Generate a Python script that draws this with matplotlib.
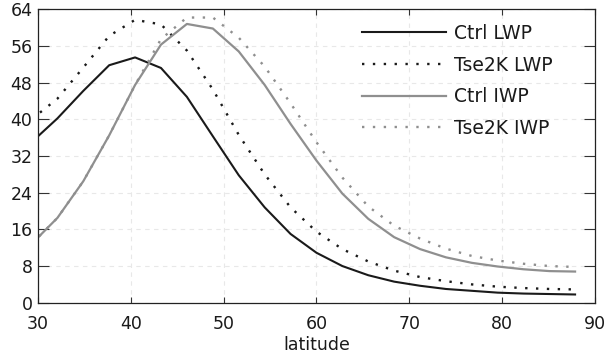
import numpy as np
import matplotlib
matplotlib.use("Agg")
import matplotlib.pyplot as plt

plt.rcParams['font.family'] = ['DejaVu Sans']

# T42 gaussian latitudes (NH, 29N-88N)
lat = [29.30, 32.09, 34.88, 37.67, 40.46, 43.25, 46.04, 48.84, 51.63, 54.42, 57.21,
       60.00, 62.79, 65.58, 68.37, 71.16, 73.95, 76.74, 79.53, 82.31, 85.10, 87.86]

ctrl_lwp = [35.0, 40.2, 46.2, 51.8, 53.5, 51.2, 44.9, 36.3, 27.8, 20.8, 15.0,
            10.9, 8.0, 6.0, 4.6, 3.7, 3.0, 2.6, 2.2, 2.0, 1.9, 1.8]
tse_lwp = [40.0, 44.5, 51.3, 58.2, 61.7, 60.7, 55.0, 46.5, 36.6, 28.0, 20.8,
           15.5, 11.7, 9.0, 7.0, 5.6, 4.7, 4.0, 3.5, 3.2, 3.0, 2.9]
ctrl_iwp = [12.8, 18.5, 26.5, 36.5, 47.5, 56.3, 60.8, 59.8, 54.8, 47.5, 39.0,
            31.0, 23.8, 18.3, 14.3, 11.7, 9.9, 8.7, 7.9, 7.3, 6.9, 6.8]
tse_iwp = [12.8, 18.5, 26.5, 36.5, 47.5, 57.5, 62.2, 62.2, 57.8, 51.5, 43.5,
           35.0, 27.3, 21.0, 16.8, 14.0, 11.8, 10.2, 9.2, 8.5, 8.0, 7.8]

labels = ['Ctrl LWP', 'Tse2K LWP', 'Ctrl IWP', 'Tse2K IWP']
xticks = [30, 40, 50, 60, 70, 80, 90]
yticks = [0, 8, 16, 24, 32, 40, 48, 56, 64]

dark = '#1a1a1a'
grey = '#8f8f8f'
dot = (0, (1, 3.6))

fig = plt.figure(figsize=(6.08, 3.57), dpi=100)
ax = fig.add_axes([0.0625, 0.152, 0.916, 0.822])

ax.plot(lat, ctrl_lwp, color=dark, lw=1.5, label=labels[0])
ax.plot(lat, tse_lwp, color=dark, lw=1.7, ls=dot, dash_capstyle='butt', label=labels[1])
ax.plot(lat, ctrl_iwp, color=grey, lw=1.6, label=labels[2])
ax.plot(lat, tse_iwp, color=grey, lw=1.7, ls=dot, dash_capstyle='butt', label=labels[3])

ax.set_xlim(30, 90)
ax.set_ylim(0, 64)
ax.set_xticks(xticks)
ax.set_yticks(yticks)
ax.tick_params(axis='both', direction='in', labelsize=12.5, width=0.8, color='#333333',
               labelcolor='#1a1a1a', top=True, right=True)
ax.tick_params(axis='y', length=8, pad=4)
ax.tick_params(axis='x', length=4, pad=9)
ax.grid(True, ls=(0, (4, 4)), color='#e8e8e8', lw=0.8)
for s in ax.spines.values():
    s.set_color('#222222')
    s.set_linewidth(0.9)

ax.set_xlabel('latitude', fontsize=12.5, labelpad=2, color='#1a1a1a')

leg = ax.legend(loc='upper right', bbox_to_anchor=(0.955, 1.008), frameon=False, fontsize=13.5,
                handlelength=4.5, handletextpad=0.42, labelspacing=0.68)
for t in leg.get_texts():
    t.set_color('#1a1a1a')

fig.savefig('out.png', dpi=100)
